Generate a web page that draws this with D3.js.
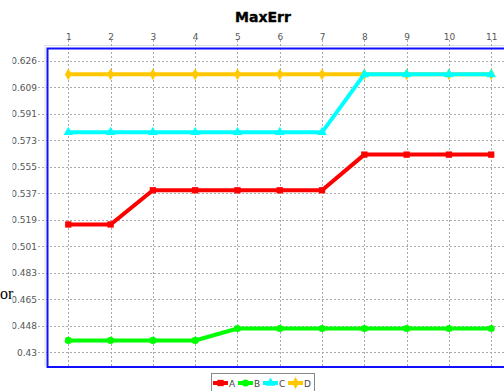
<!DOCTYPE html>
<html>
<head>
<meta charset="utf-8">
<script src="https://cdn.jsdelivr.net/npm/d3@7"></script>
<style>
  body { margin: 0; background: #fff; }
  svg { display: block; }
</style>
</head>
<body>
<div id="chart"></div>
<script>
// data
const xValues = [1, 2, 3, 4, 5, 6, 7, 8, 9, 10, 11];
const seriesNames = ['A', 'B', 'C', 'D'];
const valuesA = [0.516, 0.516, 0.539, 0.539, 0.539, 0.539, 0.539, 0.563, 0.563, 0.563, 0.563];
const valuesB = [0.438, 0.438, 0.438, 0.438, 0.446, 0.446, 0.446, 0.446, 0.446, 0.446, 0.446];
const valuesC = [0.578, 0.578, 0.578, 0.578, 0.578, 0.578, 0.578, 0.617, 0.617, 0.617, 0.617];
const valuesD = [0.617, 0.617, 0.617, 0.617, 0.617, 0.617, 0.617, 0.617, 0.617, 0.617, 0.617];
const yTickLabels = ['0.43', '0.448', '0.465', '0.483', '0.501', '0.519', '0.537', '0.555', '0.573', '0.591', '0.609', '0.626'];
const colors = ['#ff0000', '#00ff00', '#00ffff', '#ffc800'];

const width = 504;
const height = 391;

const plot = { left: 47.5, top: 48.5, bottom: 367, right: 512 };

const svg = d3.select('#chart')
  .append('svg')
  .attr('width', width)
  .attr('height', height)
  .style('font-family', 'DejaVu Sans, sans-serif');

// scales
const x = d3.scaleLinear().domain([0.508, 11.492]).range([plot.left, plot.right]);
const y = d3.scaleLinear().domain([0.4201, 0.6344]).range([plot.bottom, plot.top]);

// ticks are evenly spaced between the first and last label
const yLo = +yTickLabels[0], yHi = +yTickLabels[yTickLabels.length - 1];
const yTicks = yTickLabels.map((d, i) => yLo + i * (yHi - yLo) / (yTickLabels.length - 1));

// title
svg.append('text')
  .attr('x', 263)
  .attr('y', 22)
  .attr('text-anchor', 'middle')
  .style('font-size', '14px')
  .style('font-weight', 'bold')
  .attr('stroke', '#000')
  .attr('stroke-width', 0.4)
  .text('MaxErr');

// clipped y-label fragment at the left
svg.append('text')
  .attr('x', 0)
  .attr('y', 299)
  .style('font-family', 'Liberation Serif, serif')
  .style('font-size', '16px')
  .text('or');

// light axis lines
svg.append('line')
  .attr('x1', 45).attr('x2', width).attr('y1', 45.5).attr('y2', 45.5)
  .attr('stroke', '#ddd');
svg.append('line')
  .attr('x1', 45).attr('x2', 45).attr('y1', 45).attr('y2', plot.bottom)
  .attr('stroke', '#ddd');

// grid
const grid = svg.append('g')
  .attr('stroke', '#aaa')
  .attr('stroke-dasharray', '2,2')
  .attr('stroke-width', 1);

grid.selectAll('.gx')
  .data(xValues)
  .enter()
  .append('line')
  .attr('x1', d => Math.round(x(d)) + 0.5)
  .attr('x2', d => Math.round(x(d)) + 0.5)
  .attr('y1', 40)
  .attr('y2', plot.bottom);

grid.selectAll('.gy')
  .data(yTicks)
  .enter()
  .append('line')
  .attr('x1', 38)
  .attr('x2', width)
  .attr('y1', d => Math.round(y(d)) + 0.5)
  .attr('y2', d => Math.round(y(d)) + 0.5);

// top x axis labels
const xAxis = d3.axisTop(x).tickValues(xValues).tickSize(0).tickPadding(0);
const gx = svg.append('g')
  .attr('transform', 'translate(0,40)')
  .call(xAxis);
gx.select('.domain').remove();
gx.selectAll('text')
  .attr('dy', 0)
  .style('font-size', '9px')
  .style('font-family', 'DejaVu Sans, sans-serif')
  .attr('fill', '#555');

// left y axis labels, clipped at the left like the original
svg.append('clipPath').attr('id', 'yclip')
  .append('rect').attr('x', 12.5).attr('y', 0).attr('width', 40).attr('height', height);

const yAxis = d3.axisLeft(y).tickValues(yTicks).tickFormat((d, i) => yTickLabels[i]).tickSize(0).tickPadding(0);
const gy = svg.append('g')
  .attr('clip-path', 'url(#yclip)')
  .append('g')
  .attr('transform', 'translate(37,0)')
  .call(yAxis);
gy.select('.domain').remove();
gy.selectAll('text')
  .style('font-size', '9px')
  .style('font-family', 'DejaVu Sans, sans-serif')
  .attr('fill', '#555');

// series
const series = [valuesA, valuesB, valuesC, valuesD].map((vals, i) => ({
  name: seriesNames[i],
  color: colors[i],
  points: vals.map((v, j) => ({ x: xValues[j], y: v }))
}));

const shapes = [d3.symbolSquare, d3.symbolCircle, d3.symbolTriangle, d3.symbolDiamond];

const line = d3.line().x(d => x(d.x)).y(d => y(d.y));

const plotG = svg.append('g');

// drawn last series first so A ends on top
series.slice().reverse().forEach(s => {
  const i = seriesNames.indexOf(s.name);
  plotG.append('path')
    .datum(s.points)
    .attr('d', line)
    .attr('fill', 'none')
    .attr('stroke', s.color)
    .attr('stroke-width', 4);
  plotG.selectAll('.m' + s.name)
    .data(s.points)
    .enter()
    .append('path')
    .attr('d', d3.symbol().type(shapes[i]).size(40))
    .attr('transform', d => `translate(${x(d.x)},${y(d.y)})`)
    .attr('fill', s.color);
});

// plot border
svg.append('rect')
  .attr('x', plot.left)
  .attr('y', plot.top)
  .attr('width', plot.right - plot.left)
  .attr('height', plot.bottom - plot.top)
  .attr('fill', 'none')
  .attr('stroke', '#1010ff')
  .attr('stroke-width', 2);

// legend
const legend = svg.append('g');
legend.append('rect')
  .attr('x', 211.5)
  .attr('y', 373.5)
  .attr('width', 103)
  .attr('height', 24)
  .attr('fill', '#fff')
  .attr('stroke', '#888');

series.forEach((s, i) => {
  const x0 = 213 + i * 25;
  const g = legend.append('g');
  g.append('line')
    .attr('x1', x0).attr('x2', x0 + 15)
    .attr('y1', 383).attr('y2', 383)
    .attr('stroke', s.color)
    .attr('stroke-width', 4);
  g.append('path')
    .attr('d', d3.symbol().type(shapes[i]).size(40))
    .attr('transform', `translate(${x0 + 7.5},383)`)
    .attr('fill', s.color);
  g.append('text')
    .attr('x', x0 + 16)
    .attr('y', 386.5)
    .style('font-size', '9px')
    .attr('fill', '#444')
    .text(s.name);
});
</script>
</body>
</html>
